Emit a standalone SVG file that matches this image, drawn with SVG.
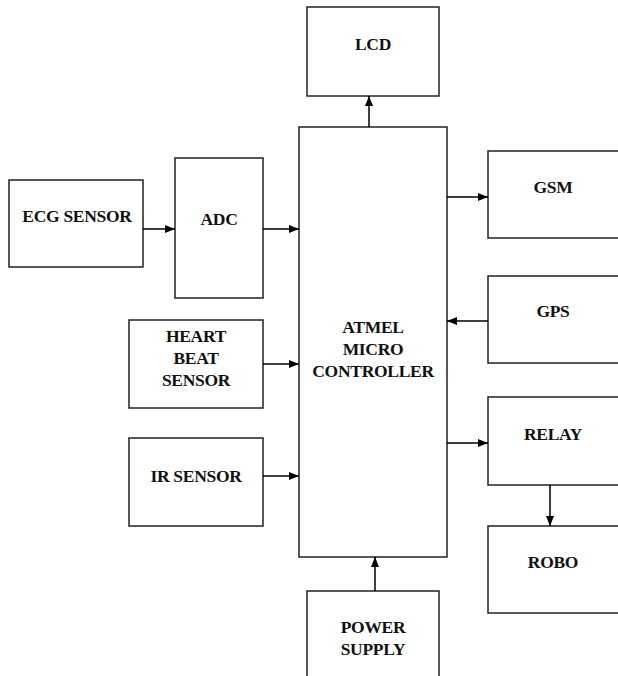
<svg xmlns="http://www.w3.org/2000/svg" width="618" height="676" viewBox="0 0 618 676">
<defs>
<marker id="ah" viewBox="0 0 10 10" refX="10" refY="5" markerWidth="10" markerHeight="10" markerUnits="userSpaceOnUse" orient="auto">
<path d="M0,1 L10,5 L0,9 Z" fill="#000"/>
</marker>
</defs>
<style>
.box{fill:#fff;stroke:#222;stroke-width:1.5}
.t{font-family:'Liberation Serif','Times New Roman',serif;font-weight:bold;font-size:17.5px;fill:#111;text-anchor:middle;letter-spacing:-0.3px}
.c{stroke:#000;stroke-width:1.5;fill:none;marker-end:url(#ah)}
</style>
<rect width="618" height="676" fill="#fff"/>
<g id="lcd"><rect class="box" x="307" y="7" width="132" height="89"/><text class="t" x="373" y="50">LCD</text></g>
<g id="mc"><rect class="box" x="299" y="127" width="148" height="430"/>
<text class="t" x="373" y="333">ATMEL</text><text class="t" x="373" y="355">MICRO</text><text class="t" x="373" y="377">CONTROLLER</text></g>
<g id="ecg"><rect class="box" x="9" y="180" width="134" height="87"/><text class="t" x="77" y="222">ECG SENSOR</text></g>
<g id="adc"><rect class="box" x="175" y="158" width="88" height="140"/><text class="t" x="219" y="225">ADC</text></g>
<g id="heart"><rect class="box" x="129" y="320" width="134" height="88"/>
<text class="t" x="196" y="342">HEART</text><text class="t" x="196" y="364">BEAT</text><text class="t" x="196" y="386">SENSOR</text></g>
<g id="ir"><rect class="box" x="129" y="438" width="134" height="88"/><text class="t" x="196" y="482">IR SENSOR</text></g>
<g id="gsm"><rect class="box" x="488" y="151" width="140" height="87"/><text class="t" x="553" y="193">GSM</text></g>
<g id="gps"><rect class="box" x="488" y="276" width="140" height="87"/><text class="t" x="553" y="317">GPS</text></g>
<g id="relay"><rect class="box" x="488" y="397" width="140" height="88"/><text class="t" x="553" y="440">RELAY</text></g>
<g id="robo"><rect class="box" x="488" y="526" width="140" height="87"/><text class="t" x="553" y="568">ROBO</text></g>
<g id="power"><rect class="box" x="307" y="591" width="132" height="100"/>
<text class="t" x="373" y="633">POWER</text><text class="t" x="373" y="655">SUPPLY</text></g>
<g id="connectors">
<line class="c" x1="369" y1="127" x2="369" y2="96"/>
<line class="c" x1="143" y1="229" x2="175" y2="229"/>
<line class="c" x1="263" y1="229" x2="299" y2="229"/>
<line class="c" x1="263" y1="364" x2="299" y2="364"/>
<line class="c" x1="263" y1="476" x2="299" y2="476"/>
<line class="c" x1="447" y1="197" x2="488" y2="197"/>
<line class="c" x1="488" y1="321" x2="447" y2="321"/>
<line class="c" x1="447" y1="443" x2="488" y2="443"/>
<line class="c" x1="550" y1="485" x2="550" y2="526"/>
<line class="c" x1="375" y1="591" x2="375" y2="557"/>
</g>
</svg>
